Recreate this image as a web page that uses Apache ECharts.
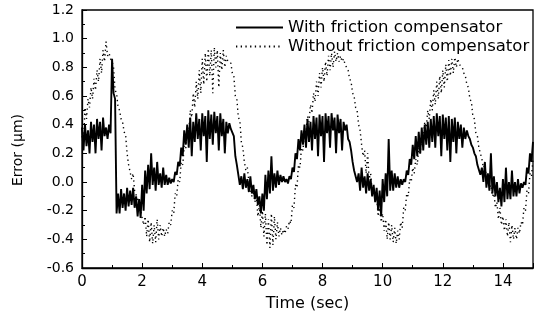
<!DOCTYPE html>
<html><head><meta charset="utf-8">
<script src="https://cdn.jsdelivr.net/npm/echarts@6/dist/echarts.min.js"></script>
<style>html,body{margin:0;padding:0;background:#fff}#c{width:537px;height:320px}</style>
</head><body><div id="c"></div>
<script>
// sample times (sec)
const times = [0,0.1,0.2,0.3,0.4,0.5,0.6,0.7,0.8,0.9,1,1.1,1.2,1.3,1.4,1.5,1.6,1.7,1.8,1.9,2,2.1,2.2,2.3,2.4,2.5,2.6,2.7,2.8,2.9,3,3.1,3.2,3.3,3.4,3.5,3.6,3.7,3.8,3.9,4,4.1,4.2,4.3,4.4,4.5,4.6,4.7,4.8,4.9,5,5.1,5.2,5.3,5.4,5.5,5.6,5.7,5.8,5.9,6,6.1,6.2,6.3,6.4,6.5,6.6,6.7,6.8,6.9,7,7.1,7.2,7.3,7.4,7.5,7.6,7.7,7.8,7.9,8,8.1,8.2,8.3,8.4,8.5,8.6,8.7,8.8,8.9,9,9.1,9.2,9.3,9.4,9.5,9.6,9.7,9.8,9.9,10,10.1,10.2,10.3,10.4,10.5,10.6,10.7,10.8,10.9,11,11.1,11.2,11.3,11.4,11.5,11.6,11.7,11.8,11.9,12,12.1,12.2,12.3,12.4,12.5,12.6,12.7,12.8,12.9,13,13.1,13.2,13.3,13.4,13.5,13.6,13.7,13.8,13.9,14,14.1,14.2,14.3,14.4,14.5,14.6,14.7,14.8,14.9,15];

// "With friction compensator": upper and lower values of the noisy trace at each sample
const withHi = [0.38,0.40,0.36,0.42,0.40,0.44,0.42,0.45,0.38,0.40,0.86,0.58,-0.08,-0.05,-0.08,-0.04,-0.06,-0.04,-0.10,-0.12,-0.02,0.08,0.12,0.20,0.10,0.14,0.06,0.10,0.05,0.03,0.02,0.07,0.14,0.24,0.36,0.40,0.45,0.42,0.48,0.44,0.48,0.46,0.50,0.47,0.49,0.46,0.48,0.44,0.42,0.41,0.36,0.18,0.05,0.04,0.06,0.02,0.04,-0.02,-0.05,-0.10,-0.08,0.05,0.08,0.18,0.06,0.08,0.05,0.04,0.02,0.04,0.10,0.20,0.30,0.36,0.40,0.44,0.42,0.46,0.45,0.47,0.46,0.48,0.46,0.48,0.45,0.47,0.44,0.42,0.40,0.28,0.14,0.08,0.06,0.10,0.04,0.06,0.02,-0.02,-0.04,-0.06,0.02,0.06,0.30,0.08,0.06,0.04,0.02,0.02,0.08,0.16,0.26,0.32,0.35,0.38,0.40,0.42,0.44,0.46,0.48,0.46,0.47,0.45,0.46,0.44,0.45,0.42,0.40,0.38,0.36,0.30,0.24,0.18,0.12,0.10,0.14,0.06,0.20,0.04,0.00,-0.04,0.02,0.10,0.00,0.08,0.00,0.02,-0.01,0.00,0.10,0.20,0.28];
const withLo = [0.22,0.25,0.20,0.28,0.20,0.30,0.22,0.32,0.30,0.34,0.62,-0.22,-0.22,-0.18,-0.20,-0.17,-0.16,-0.18,-0.24,-0.25,-0.20,-0.08,-0.05,-0.02,-0.06,-0.02,-0.04,-0.02,-0.02,-0.01,0.00,0.05,0.11,0.18,0.26,0.24,0.18,0.28,0.30,0.22,0.32,0.14,0.30,0.26,0.34,0.22,0.32,0.20,0.34,0.37,0.32,0.12,-0.02,-0.05,-0.04,-0.07,-0.08,-0.12,-0.16,-0.22,-0.20,-0.12,-0.08,-0.06,-0.04,-0.02,0.00,0.00,-0.01,0.02,0.07,0.16,0.22,0.26,0.24,0.28,0.22,0.30,0.18,0.32,0.14,0.34,0.24,0.36,0.20,0.34,0.22,0.36,0.30,0.22,0.08,0.00,-0.06,-0.04,-0.08,-0.06,-0.10,-0.14,-0.20,-0.24,-0.14,-0.10,-0.06,-0.06,-0.04,-0.04,-0.02,0.00,0.05,0.12,0.16,0.18,0.20,0.22,0.26,0.24,0.28,0.24,0.32,0.18,0.30,0.22,0.14,0.28,0.20,0.30,0.24,0.30,0.32,0.26,0.20,0.12,0.05,0.00,-0.04,-0.06,-0.08,-0.10,-0.14,-0.17,-0.14,-0.12,-0.12,-0.10,-0.10,-0.08,-0.04,-0.02,0.06,0.14,0.24];

// "Without friction compensator"
const withoutHi = [0.32,0.52,0.58,0.66,0.72,0.78,0.86,0.92,0.98,0.90,0.84,0.64,0.52,0.44,0.35,0.20,0.12,0.06,-0.06,-0.14,-0.20,-0.24,-0.26,-0.28,-0.30,-0.26,-0.30,-0.32,-0.33,-0.28,-0.20,-0.08,0.02,0.14,0.25,0.38,0.50,0.62,0.70,0.78,0.86,0.90,0.93,0.92,0.94,0.92,0.90,0.92,0.88,0.85,0.76,0.60,0.45,0.28,0.14,0.10,0.00,-0.06,-0.10,-0.16,-0.20,-0.22,-0.26,-0.22,-0.24,-0.28,-0.32,-0.33,-0.31,-0.27,-0.16,-0.02,0.12,0.24,0.36,0.46,0.54,0.62,0.70,0.76,0.80,0.84,0.88,0.90,0.91,0.90,0.88,0.86,0.80,0.72,0.62,0.52,0.40,0.26,0.22,0.20,0.06,-0.04,-0.10,-0.18,-0.22,-0.26,-0.28,-0.30,-0.32,-0.34,-0.28,-0.18,-0.08,0.02,0.10,0.16,0.24,0.34,0.42,0.50,0.58,0.64,0.70,0.74,0.78,0.82,0.85,0.86,0.87,0.86,0.83,0.76,0.68,0.58,0.46,0.34,0.24,0.16,0.12,0.04,-0.02,-0.08,-0.14,-0.18,-0.24,-0.26,-0.28,-0.30,-0.32,-0.32,-0.28,-0.18,-0.06,0.06,0.16];
const withoutLo = [0.28,0.44,0.52,0.58,0.64,0.70,0.76,0.84,0.88,0.86,0.80,0.62,0.50,0.42,0.33,0.12,0.02,-0.06,-0.12,-0.20,-0.30,-0.38,-0.42,-0.43,-0.42,-0.40,-0.38,-0.38,-0.36,-0.30,-0.22,-0.10,0.00,0.12,0.23,0.35,0.45,0.52,0.58,0.62,0.68,0.70,0.74,0.62,0.80,0.66,0.78,0.80,0.84,0.83,0.74,0.58,0.43,0.24,0.08,0.00,-0.10,-0.14,-0.24,-0.32,-0.38,-0.44,-0.46,-0.44,-0.40,-0.38,-0.37,-0.36,-0.33,-0.29,-0.18,-0.04,0.10,0.22,0.34,0.42,0.48,0.56,0.60,0.66,0.70,0.74,0.78,0.80,0.84,0.84,0.84,0.82,0.78,0.70,0.60,0.50,0.36,0.18,0.06,0.02,-0.06,-0.12,-0.24,-0.28,-0.34,-0.40,-0.40,-0.42,-0.43,-0.40,-0.32,-0.20,-0.10,0.00,0.06,0.12,0.20,0.30,0.38,0.44,0.50,0.54,0.58,0.62,0.66,0.70,0.74,0.76,0.80,0.82,0.80,0.74,0.66,0.56,0.44,0.32,0.20,0.10,0.02,-0.04,-0.10,-0.18,-0.26,-0.30,-0.34,-0.38,-0.42,-0.40,-0.40,-0.36,-0.30,-0.20,-0.08,0.04,0.14];

const xTicks = [0,2,4,6,8,10,12,14];
const yTicks = [-0.6,-0.4,-0.2,0.0,0.2,0.4,0.6,0.8,1.0,1.2];
const seriesNames = ['With friction compensator','Without friction compensator'];

// build the noisy trace: alternate between the upper and the lower value
function zig(hi, lo){
  const out = [];
  for (let i = 0; i < times.length; i++){
    out.push([times[i], hi[i]]);
    if (i < times.length - 1) out.push([times[i] + 0.05, lo[i]]);
  }
  return out;
}

const font = '"DejaVu Sans", Verdana, sans-serif';
const chart = echarts.init(document.getElementById('c'), null, {renderer:'canvas'});
chart.setOption({
  animation:false,
  backgroundColor:'#fff',
  grid:{left:82, right:4, top:10, bottom:52, show:true, borderColor:'#000', borderWidth:1.3},
  legend:{
    orient:'vertical', left:230, top:14, itemWidth:47, itemHeight:10, itemGap:2,
    itemStyle:{opacity:0},
    textStyle:{fontFamily:font, fontSize:16.5, lineHeight:16, color:'#000'},
    data:seriesNames
  },
  xAxis:{
    type:'value', min:0, max:15, interval:2,
    name:'Time (sec)', nameLocation:'middle', nameGap:28,
    nameTextStyle:{fontFamily:font, fontSize:16, color:'#000'},
    axisLine:{show:true, onZero:false, lineStyle:{color:'#000', width:1.3}},
    axisTick:{show:true, inside:true, length:5, lineStyle:{color:'#000'}},
    minorTick:{show:true, splitNumber:2, length:3, lineStyle:{color:'#000'}},
    splitLine:{show:false},
    axisLabel:{fontFamily:font, fontSize:15, color:'#000', margin:7, showMaxLabel:false,
      formatter:v => xTicks.includes(v) ? String(v) : ''}
  },
  yAxis:{
    type:'value', min:-0.6, max:1.2, interval:0.2,
    name:'Error (\u00b5m)', nameLocation:'middle', nameGap:57,
    nameTextStyle:{fontFamily:font, fontSize:14, color:'#000', padding:[0,22,0,0]},
    axisLine:{show:true, onZero:false, lineStyle:{color:'#000', width:1.3}},
    axisTick:{show:true, inside:true, length:5, lineStyle:{color:'#000'}},
    minorTick:{show:true, splitNumber:2, length:3, lineStyle:{color:'#000'}},
    splitLine:{show:false},
    axisLabel:{fontFamily:font, fontSize:14, color:'#000', margin:8,
      formatter:v => { const t = yTicks.find(k => Math.abs(k - v) < 1e-6); return t === undefined ? '' : t.toFixed(1); }}
  },
  series:[
    {name:seriesNames[0], type:'line', symbol:'none', data:zig(withHi, withLo),
     lineStyle:{color:'#000', width:1.9}, itemStyle:{color:'#000'}, z:3},
    {name:seriesNames[1], type:'line', symbol:'none', data:zig(withoutHi, withoutLo),
     lineStyle:{color:'#000', width:1.4, type:[1.3,3.4]}, itemStyle:{color:'#000'}, z:2}
  ]
});
</script></body></html>
